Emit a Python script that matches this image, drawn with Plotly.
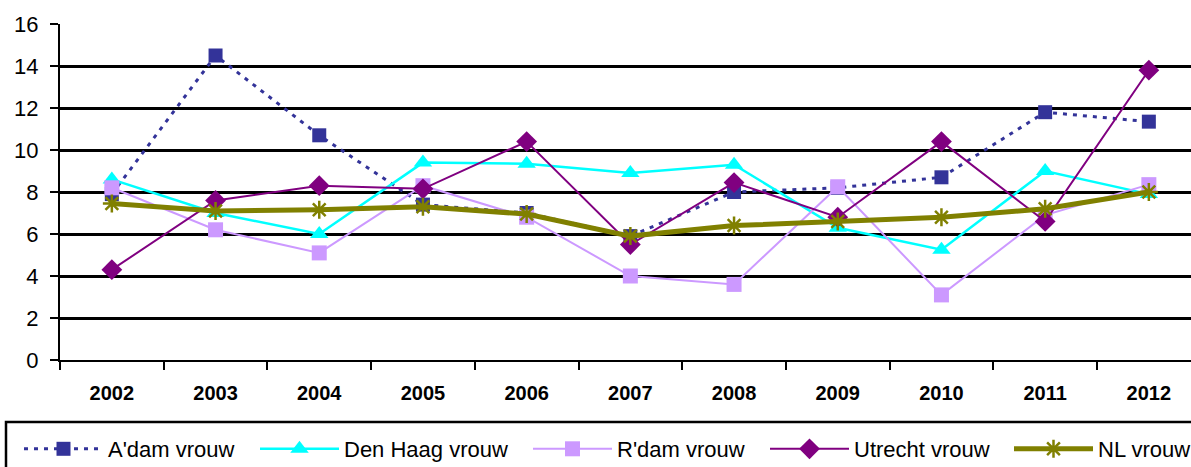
import plotly.graph_objects as go

# Jaren en reeksen
years = ["2002", "2003", "2004", "2005", "2006", "2007", "2008", "2009", "2010", "2011", "2012"]
adam_vrouw = [7.9, 14.5, 10.7, 7.4, 7.0, 5.9, 8.0, 8.2, 8.7, 11.8, 11.35]
den_haag_vrouw = [8.6, 7.0, 6.0, 9.4, 9.35, 8.9, 9.3, 6.3, 5.25, 9.0, 7.9]
rdam_vrouw = [8.2, 6.2, 5.1, 8.3, 6.8, 4.0, 3.6, 8.25, 3.1, 6.9, 8.35]
utrecht_vrouw = [4.3, 7.6, 8.3, 8.15, 10.4, 5.5, 8.45, 6.8, 10.4, 6.6, 13.8]
nl_vrouw = [7.45, 7.1, 7.15, 7.3, 6.95, 5.9, 6.4, 6.6, 6.8, 7.2, 8.0]

W, H = 1191, 467
L, T, B = 60, 24, 107          # pixel margins of the plot area
PLOT_H = H - T - B
PLOT_W = W - L
CAT_W = 103.7                   # pixel width of one category slot

FONT = "Liberation Sans, Arial, sans-serif"

# name, values, colour, dash, line width, symbol, marker size, marker line width, legend x (px)
series = [
    ("A'dam vrouw", adam_vrouw, "#333399", "4px,6px", 3, "square", 14, 0, 19),
    ("Den Haag vrouw", den_haag_vrouw, "#00FFFF", "solid", 2.5, "triangle-up", 16, 0, 255),
    ("R'dam vrouw", rdam_vrouw, "#CC99FF", "solid", 2, "square", 15, 0, 528),
    ("Utrecht vrouw", utrecht_vrouw, "#800080", "solid", 2, "diamond", 16, 0, 765),
    ("NL vrouw", nl_vrouw, "#808000", "solid", 5, "asterisk-open", 15, 2.5, 1009),
]


def py(pixel_y):
    return (H - B - pixel_y) / PLOT_H


def px(pixel_x):
    return (pixel_x - L) / PLOT_W


fig = go.Figure()
legends = {}
for i, (name, vals, color, dash, lw, sym, msize, mlw, lx) in enumerate(series):
    marker = dict(symbol=sym, size=msize, color=color)
    if sym.endswith("-open"):
        marker["line"] = dict(color=color, width=mlw)
    else:
        marker["line"] = dict(width=0)
    legend_id = "legend" if i == 0 else f"legend{i + 1}"
    fig.add_trace(go.Scatter(
        x=years, y=vals, name=name, mode="lines+markers",
        line=dict(color=color, width=lw, dash=dash),
        marker=marker,
        legend=legend_id,
    ))
    legends[legend_id] = dict(
        orientation="h",
        x=px(lx), xanchor="left",
        y=py(428), yanchor="top",
        font=dict(family=FONT, size=22, color="black"),
        itemwidth=79,
        bgcolor="rgba(0,0,0,0)",
        borderwidth=0,
    )

# x range so each category slot is CAT_W pixels wide
x_span = PLOT_W / CAT_W

fig.update_layout(
    width=W, height=H,
    margin=dict(l=L, r=0, t=T, b=B, pad=0, autoexpand=False),
    paper_bgcolor="white", plot_bgcolor="white",
    font=dict(family=FONT, size=21, color="black"),
    showlegend=True,
    xaxis=dict(
        type="category",
        range=[-0.5, -0.5 + x_span],
        showgrid=False,
        showline=True, linecolor="black", linewidth=2,
        ticks="outside", tickson="boundaries", ticklen=8, tickwidth=2, tickcolor="black",
        tickfont=dict(family=FONT, size=20, color="black", weight="bold"),
        ticklabelstandoff=14,
        fixedrange=True,
    ),
    yaxis=dict(
        range=[0, 16], dtick=2, tick0=0,
        showgrid=True, gridcolor="black", gridwidth=2.5,
        showline=True, linecolor="black", linewidth=2,
        zeroline=False,
        ticks="outside", ticklen=8, tickwidth=2, tickcolor="black",
        tickfont=dict(family=FONT, size=22, color="black"),
        ticklabelstandoff=7,
        fixedrange=True,
    ),
    shapes=[
        # legend frame running past the right and bottom edges
        dict(type="rect", xref="paper", yref="paper",
             x0=px(6), x1=px(W + 20), y0=py(H + 20), y1=py(422),
             line=dict(color="black", width=2.5), fillcolor="rgba(0,0,0,0)",
             layer="below"),
    ],
    **legends,
)

fig.write_html("out.html")
